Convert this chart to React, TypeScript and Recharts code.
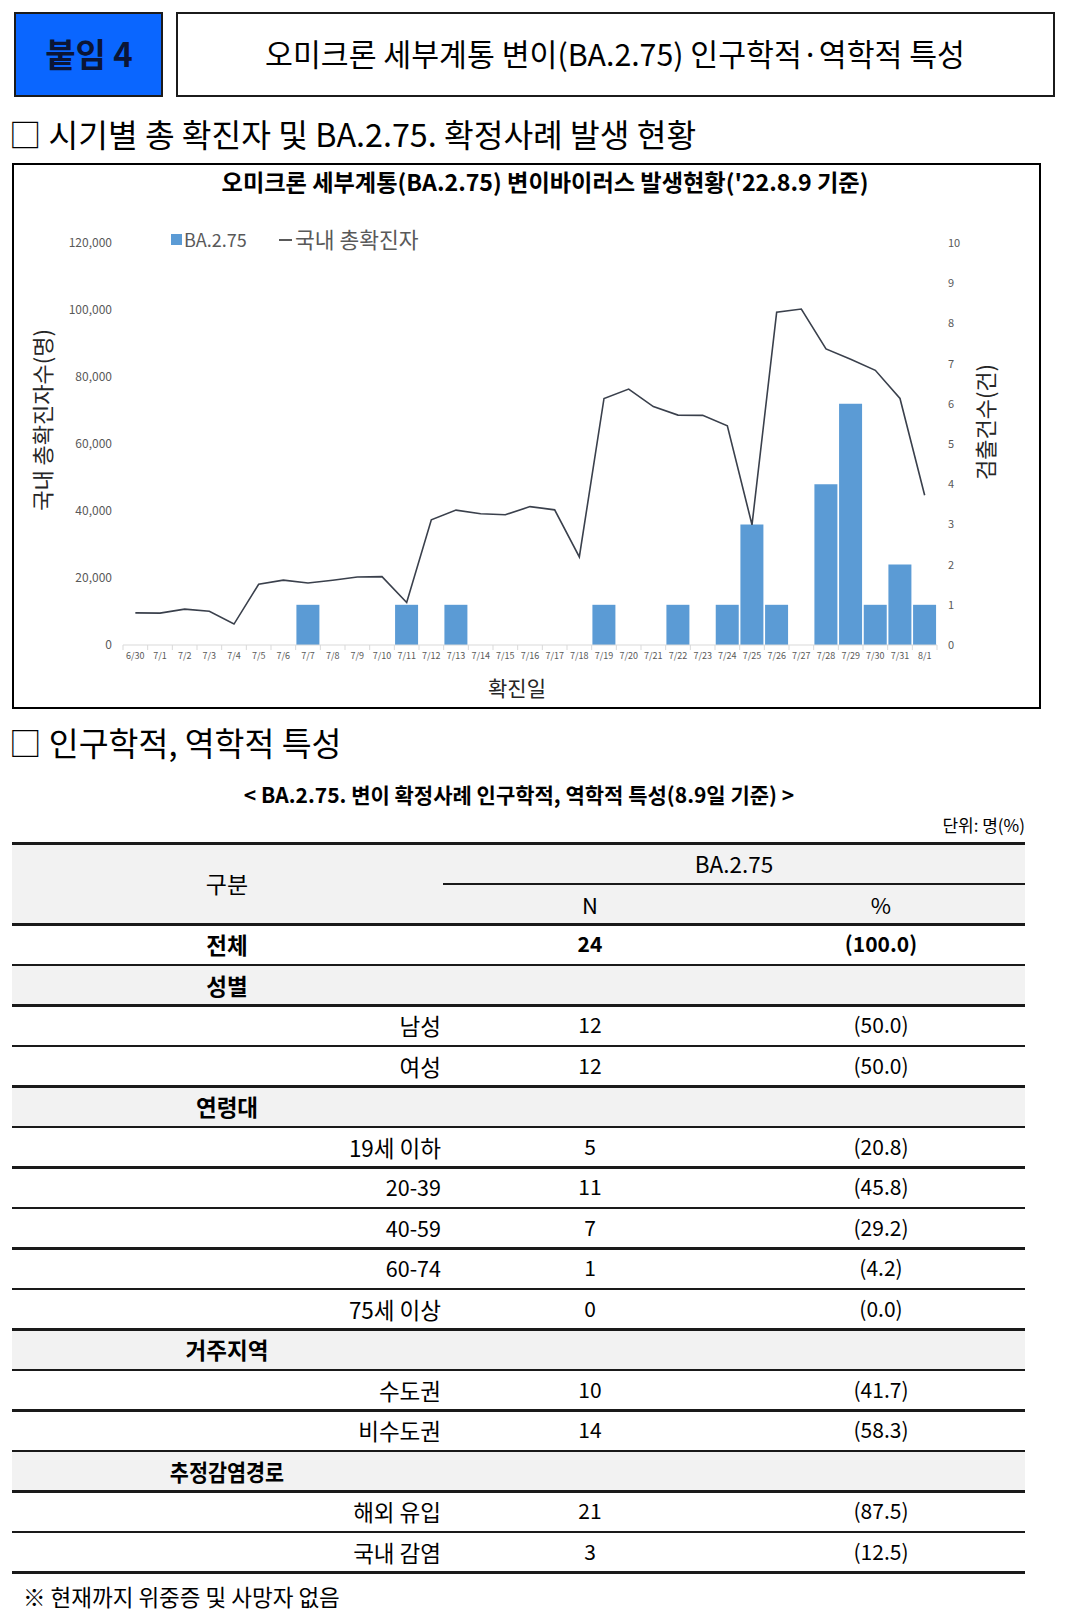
import React from 'react';
import { ComposedChart, Bar, Line, XAxis, YAxis, Label } from 'recharts';

const FONT = '"Noto Sans CJK KR", "Noto Sans", sans-serif';

// ---- chart data ----
const dates = ['6/30', '7/1', '7/2', '7/3', '7/4', '7/5', '7/6', '7/7', '7/8', '7/9', '7/10', '7/11', '7/12', '7/13', '7/14', '7/15', '7/16', '7/17', '7/18', '7/19', '7/20', '7/21', '7/22', '7/23', '7/24', '7/25', '7/26', '7/27', '7/28', '7/29', '7/30', '7/31', '8/1'];
const totalConfirmed = [9595, 9528, 10715, 10059, 6254, 18147, 19371, 18511, 19323, 20286, 20410, 12693, 37360, 40266, 39196, 38882, 41310, 40342, 26299, 73582, 76402, 71170, 68632, 68551, 65433, 35883, 99327, 100285, 88384, 85285, 82002, 73589, 44689];
const ba275Detected = [0, 0, 0, 0, 0, 0, 0, 1, 0, 0, 0, 1, 0, 1, 0, 0, 0, 0, 0, 1, 0, 0, 1, 0, 1, 3, 1, 0, 4, 6, 1, 2, 1];
const leftTicks = [0, 20000, 40000, 60000, 80000, 100000, 120000];
const rightTicks = [0, 1, 2, 3, 4, 5, 6, 7, 8, 9, 10];

// ---- table data ----
const totalN = 24;
const totalPct = 100.0;
const sexLabels = ['남성', '여성'];
const sexN = [12, 12];
const sexPct = [50.0, 50.0];
const ageLabels = ['19세 이하', '20-39', '40-59', '60-74', '75세 이상'];
const ageN = [5, 11, 7, 1, 0];
const agePct = [20.8, 45.8, 29.2, 4.2, 0.0];
const regionLabels = ['수도권', '비수도권'];
const regionN = [10, 14];
const regionPct = [41.7, 58.3];
const routeLabels = ['해외 유입', '국내 감염'];
const routeN = [21, 3];
const routePct = [87.5, 12.5];

const chartData = dates.map((d, i) => ({
  date: d,
  total: totalConfirmed[i],
  ba: ba275Detected[i] ? ba275Detected[i] : null,
}));

const CHART_W = 1029;
const CHART_H = 546;
const MARGIN = { top: 80, right: 44, bottom: 34, left: 29 };
const BAND_FALLBACK = (CHART_W - MARGIN.left - MARGIN.right - 82 - 60) / dates.length;

type TProps = {
  x: number; y: number; anchor?: 'start' | 'middle' | 'end'; size: number;
  weight?: number; color?: string; sx?: number; children: React.ReactNode;
};
function T({ x, y, anchor = 'start', size, weight = 400, color = '#000', sx = 1, children }: TProps) {
  const tx = anchor === 'middle' ? '-50%' : anchor === 'end' ? '-100%' : '0';
  const origin = anchor === 'middle' ? 'center center' : anchor === 'end' ? 'right center' : 'left center';
  return (
    <div
      style={{
        position: 'absolute', left: x, top: y, whiteSpace: 'nowrap', fontSize: size, fontWeight: weight,
        color, lineHeight: 1.2, transform: `translate(${tx}, -50%) scaleX(${sx})`, transformOrigin: origin,
        fontFamily: FONT,
      }}
    >
      {children}
    </div>
  );
}

const XTick = (props: any) => {
  const { x, y, payload } = props;
  const half = payload && typeof payload.offset === 'number' && payload.offset > 0 ? payload.offset : BAND_FALLBACK / 2;
  const axisY = y - 8;
  const isLast = payload.value === dates[dates.length - 1];
  return (
    <g>
      <line x1={x - half} x2={x - half} y1={axisY} y2={axisY + 5} stroke="#d9d9d9" strokeWidth={1} />
      {isLast && <line x1={x + half} x2={x + half} y1={axisY} y2={axisY + 5} stroke="#d9d9d9" strokeWidth={1} />}
      <text x={x} y={y} dy="0.71em" textAnchor="middle" fontSize={9} fill="#595959" fontFamily={FONT}>
        {payload.value}
      </text>
    </g>
  );
};

const LeftLabel = (p: any) => {
  const vb = p.viewBox || { x: 0, y: 0, width: 0, height: 0 };
  const cx = vb.x;
  const cy = vb.y + vb.height / 2 - 24;
  return (
    <text x={cx} y={cy} transform={`rotate(-90 ${cx} ${cy})`} textAnchor="middle" dominantBaseline="central"
      fontSize={22} fill="#262626" fontFamily={FONT}>국내 총확진자수(명)</text>
  );
};
const RightLabel = (p: any) => {
  const vb = p.viewBox || { x: 0, y: 0, width: 0, height: 0 };
  const cx = vb.x + 47;
  const cy = vb.y + vb.height / 2 - 22;
  return (
    <text x={cx} y={cy} transform={`rotate(-90 ${cx} ${cy})`} textAnchor="middle" dominantBaseline="central"
      fontSize={22} fill="#262626" fontFamily={FONT}>검출건수(건)</text>
  );
};
const BottomLabel = (p: any) => {
  const vb = p.viewBox || { x: 0, y: 0, width: 0, height: 0 };
  const cx = vb.x + vb.width / 2 - 13;
  const cy = vb.y + 42;
  return (
    <text x={cx} y={cy} textAnchor="middle" dominantBaseline="central" fontSize={21} fill="#262626" fontFamily={FONT}>확진일</text>
  );
};

const fmtPct = (v: number) => `(${v.toFixed(1)})`;

type Row = { kind: 'total' | 'group' | 'item'; label: string; n?: number; pct?: number };
const rows: Row[] = [
  { kind: 'total', label: '전체', n: totalN, pct: totalPct },
  { kind: 'group', label: '성별' },
  ...sexLabels.map((l, i) => ({ kind: 'item' as const, label: l, n: sexN[i], pct: sexPct[i] })),
  { kind: 'group', label: '연령대' },
  ...ageLabels.map((l, i) => ({ kind: 'item' as const, label: l, n: ageN[i], pct: agePct[i] })),
  { kind: 'group', label: '거주지역' },
  ...regionLabels.map((l, i) => ({ kind: 'item' as const, label: l, n: regionN[i], pct: regionPct[i] })),
  { kind: 'group', label: '추정감염경로' },
  ...routeLabels.map((l, i) => ({ kind: 'item' as const, label: l, n: routeN[i], pct: routePct[i] })),
];

const TABLE_L = 12;
const TABLE_R = 1025;
const TABLE_TOP = 843;
const HEADER_H = 81;
const ROW_H = 40.5;
const LINE = '#1a1a1a';
const GRAY = '#f2f2f2';

function HLine({ y, x1 = TABLE_L, x2 = TABLE_R }: { y: number; x1?: number; x2?: number }) {
  return <div style={{ position: 'absolute', left: x1, top: y - 1, width: x2 - x1, height: 2.5, background: LINE }} />;
}

export default function App() {
  const bodyTop = TABLE_TOP + HEADER_H;
  return (
    <div style={{ position: 'absolute', left: 0, top: 0, width: 1080, height: 1613, background: '#fff', fontFamily: FONT, overflow: 'hidden' }}>
      {/* header boxes */}
      <div style={{ position: 'absolute', left: 14, top: 12, width: 149, height: 85, boxSizing: 'border-box', border: '2px solid #1b1b1b', background: '#0a66ff' }} />
      <T x={89} y={54} anchor="middle" size={33} weight={700} color="#0b1535">붙임 4</T>
      <div style={{ position: 'absolute', left: 176, top: 12, width: 879, height: 85, boxSizing: 'border-box', border: '2px solid #1b1b1b' }} />
      <T x={615} y={53} anchor="middle" size={30.3}>오미크론 세부계통 변이(BA.2.75) 인구학적·역학적 특성</T>

      {/* section 1 heading */}
      <T x={9} y={133} size={32.3}>□ 시기별 총 확진자 및 BA.2.75. 확정사례 발생 현황</T>

      {/* chart box */}
      <div style={{ position: 'absolute', left: 12, top: 163, width: 1029, height: 546, boxSizing: 'border-box', border: '2px solid #000' }} />
      <T x={545} y={182} anchor="middle" size={23.2} weight={700}>오미크론 세부계통(BA.2.75) 변이바이러스 발생현황('22.8.9 기준)</T>

      {/* legend */}
      <div style={{ position: 'absolute', left: 171, top: 234, width: 11, height: 11, background: '#5b9bd5' }} />
      <T x={184} y={240} size={18} color="#595959">BA.2.75</T>
      <div style={{ position: 'absolute', left: 279, top: 239, width: 13, height: 1.5, background: '#595959' }} />
      <T x={295} y={239} size={21.5} color="#595959">국내 총확진자</T>

      <div style={{ position: 'absolute', left: 12, top: 163 }}>
        <ComposedChart width={CHART_W} height={CHART_H} data={chartData} margin={MARGIN} barCategoryGap="3%">
          <XAxis dataKey="date" interval={0} tickLine={false} axisLine={{ stroke: '#d9d9d9' }} tickSize={5} tickMargin={3}
            height={30} tick={<XTick />}>
            <Label content={BottomLabel} />
          </XAxis>
          <YAxis yAxisId="left" domain={[0, 120000]} ticks={leftTicks} interval={0}
            tickFormatter={(v: number) => v.toLocaleString('en-US')} axisLine={false} tickLine={false} tickSize={6} tickMargin={5}
            width={82} tick={{ fontSize: 12, fill: '#595959', fontFamily: FONT }}>
            <Label content={LeftLabel} />
          </YAxis>
          <YAxis yAxisId="right" orientation="right" domain={[0, 10]} ticks={rightTicks} interval={0}
            axisLine={false} tickLine={false} tickSize={6} tickMargin={5} width={60}
            tick={{ fontSize: 11, fill: '#595959', fontFamily: FONT }}>
            <Label content={RightLabel} />
          </YAxis>
          <Bar yAxisId="right" dataKey="ba" fill="#5b9bd5" isAnimationActive={false} />
          <Line yAxisId="left" type="linear" dataKey="total" stroke="#3a404c" strokeWidth={1.6} dot={false} activeDot={false} isAnimationActive={false} />
        </ComposedChart>
      </div>

      {/* section 2 heading */}
      <T x={9} y={741} size={32.5}>□ 인구학적, 역학적 특성</T>
      <T x={519} y={795} anchor="middle" size={21} weight={700}>&lt; BA.2.75. 변이 확정사례 인구학적, 역학적 특성(8.9일 기준) &gt;</T>
      <T x={1025} y={825} anchor="end" size={17}>단위: 명(%)</T>

      {/* table */}
      <div style={{ position: 'absolute', left: TABLE_L, top: TABLE_TOP, width: TABLE_R - TABLE_L, height: HEADER_H, background: GRAY }} />
      {rows.map((r, i) => (
        <div key={'bg' + i} style={{ position: 'absolute', left: TABLE_L, top: bodyTop + i * ROW_H, width: TABLE_R - TABLE_L, height: ROW_H, background: r.kind === 'group' ? GRAY : '#fff' }} />
      ))}
      <HLine y={TABLE_TOP} />
      <HLine y={TABLE_TOP + HEADER_H / 2} x1={443} />
      <HLine y={bodyTop} />
      {rows.map((_, i) => <HLine key={'ln' + i} y={bodyTop + (i + 1) * ROW_H} />)}
      <T x={227} y={TABLE_TOP + HEADER_H / 2} anchor="middle" size={23}>구분</T>
      <T x={734} y={TABLE_TOP + 20} anchor="middle" size={22.5}>BA.2.75</T>
      <T x={590} y={TABLE_TOP + 61} anchor="middle" size={22}>N</T>
      <T x={881} y={TABLE_TOP + 61} anchor="middle" size={22}>%</T>

      {rows.map((r, i) => {
        const cy = bodyTop + i * ROW_H + ROW_H / 2;
        if (r.kind === 'group') {
          return <T key={'t' + i} x={227} y={cy} anchor="middle" size={22.5} weight={700} sx={r.label.length >= 6 ? 0.92 : 1}>{r.label}</T>;
        }
        const bold = r.kind === 'total' ? 700 : 400;
        const hasHangul = /[가-힣]/.test(r.label);
        return (
          <React.Fragment key={'t' + i}>
            {r.kind === 'total'
              ? <T x={227} y={cy} anchor="middle" size={22.5} weight={700}>{r.label}</T>
              : <T x={441} y={cy} anchor="end" size={hasHangul ? 22.5 : 21.5}>{r.label}</T>}
            <T x={590} y={cy} anchor="middle" size={21} weight={bold}>{r.n}</T>
            <T x={881} y={cy} anchor="middle" size={21} weight={bold}>{fmtPct(r.pct as number)}</T>
          </React.Fragment>
        );
      })}

      <T x={23} y={1596} size={22.5}>※ 현재까지 위중증 및 사망자 없음</T>
    </div>
  );
}
